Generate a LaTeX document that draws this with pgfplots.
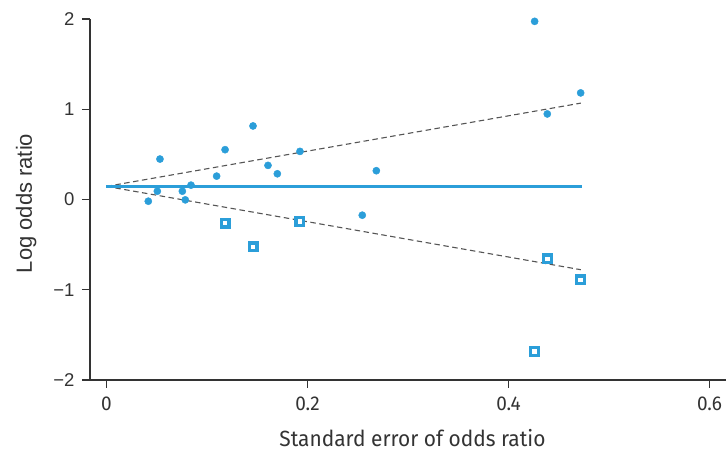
\documentclass[border=0pt]{standalone}
\usepackage{fontspec}
\setmainfont{Liberation Sans}
\newfontfamily\condfont[FakeStretch=0.95]{Fira Sans}
\usepackage{pgfplots}
\pgfplotsset{compat=1.18}
\definecolor{Blue}{HTML}{2B9ED9}
\definecolor{AxisGray}{HTML}{333333}
\definecolor{DashGray}{HTML}{555555}

\begin{document}
\begin{tikzpicture}[x=1pt,y=1pt]
\path[use as bounding box] (-90,-72) rectangle (636,380);
\begin{axis}[
  at={(0,0)}, anchor=south west,
  scale only axis, width=636pt, height=361pt,
  xmin=-0.0164, xmax=0.6164, ymin=-2, ymax=2,
  axis x line*=bottom, axis y line*=left,
  axis line style={color=AxisGray, line width=1.1pt},
  tick align=outside, major tick length=8pt,
  tick style={color=AxisGray, line width=1.1pt},
  xtick={0,0.2,0.4,0.6}, xticklabels={0,0.2,0.4,0.6},
  ytick={-2,-1,0,1,2}, yticklabels={−2,−1,0,1,2},
  xticklabel style={font=\condfont\fontsize{20}{24}\selectfont, color=AxisGray, yshift=-5pt},
  yticklabel style={font=\fontsize{18.5}{22}\selectfont, color=AxisGray, xshift=-4pt},
  xlabel={Standard error of odds ratio},
  ylabel={Log odds ratio},
  x label style={font=\condfont\fontsize{22}{26}\selectfont, color=AxisGray,
    at={(axis description cs:0.507,0)}, anchor=base, yshift=-67pt},
  y label style={font=\fontsize{22}{26}\selectfont, color=AxisGray,
    at={(axis description cs:0,0.489)}, anchor=base, yshift=58pt},
  clip=false
]
% funnel limits
\addplot[DashGray, line width=1.1pt, dash pattern=on 5.5pt off 3.5pt] coordinates {(0,0.145) (0.472,1.068)};
\addplot[DashGray, line width=1.1pt, dash pattern=on 5.5pt off 3.5pt] coordinates {(0,0.145) (0.472,-0.778)};
% pooled estimate
\addplot[Blue, line width=2.8pt] coordinates {(0,0.145) (0.473,0.145)};
% observed studies
\addplot[only marks, mark=*, mark size=3.6pt, color=Blue] coordinates {
  (0.0416,-0.019) (0.0506,0.092) (0.0532,0.448) (0.0755,0.092) (0.0784,-0.004)
  (0.0841,0.159) (0.1096,0.259) (0.1180,0.552) (0.1458,0.815) (0.1607,0.378)
  (0.1700,0.285) (0.1925,0.533) (0.2545,-0.174) (0.2685,0.319) (0.4260,1.974)
  (0.4386,0.948) (0.4718,1.181)};
% imputed studies
\addplot[only marks, mark=square*, mark size=3.9pt,
  mark options={draw=Blue, fill=white, line width=3.2pt}] coordinates {
  (0.1180,-0.262) (0.1458,-0.525) (0.1925,-0.243) (0.4386,-0.658)
  (0.4718,-0.891) (0.4260,-1.684)};
\end{axis}
\end{tikzpicture}
\end{document}
